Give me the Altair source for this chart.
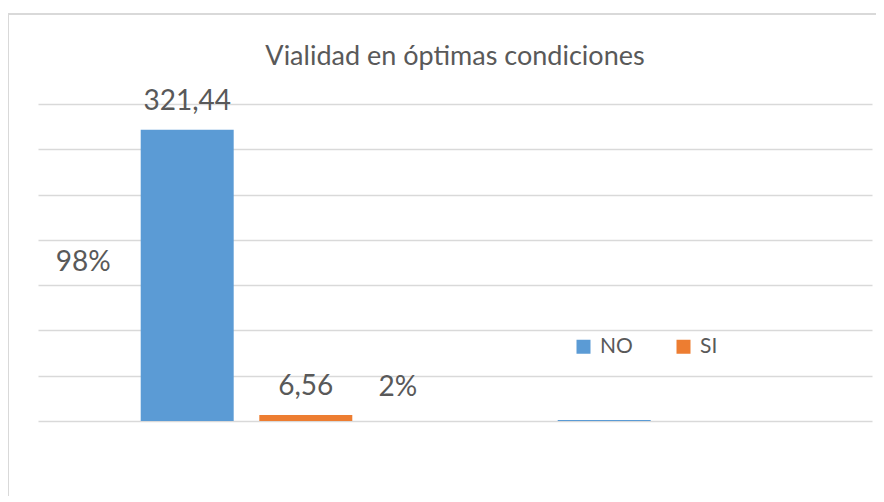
import altair as alt
import pandas as pd

titulo = "Vialidad en óptimas condiciones"
grupos = ["Kilómetros", "Porcentaje"]
series = ["NO", "SI"]
valores_km = [321.44, 6.56]
valores_pct = [0.98, 0.02]
etiquetas_km = ["321,44", "6,56"]
etiquetas_pct = ["98%", "2%"]
colores = ["#5B9BD5", "#ED7D31"]
ticks_y = [0, 50, 100, 150, 200, 250, 300, 350]

TXT = "#595959"
FONT = "Lato"

rows = []
for s, v in zip(series, valores_km):
    rows.append({"grupo": grupos[0], "serie": s, "valor": v})
for s, v in zip(series, valores_pct):
    rows.append({"grupo": grupos[1], "serie": s, "valor": v})
df_bars = pd.DataFrame(rows)

df_lab = pd.DataFrame({"grupo": [grupos[0]] * 2, "serie": series,
                       "valor": valores_km, "etiqueta": etiquetas_km,
                       "pct": etiquetas_pct})

x_enc = alt.X("grupo:N", sort=grupos, scale=alt.Scale(paddingInner=0, paddingOuter=0), axis=None)
xo_enc = alt.XOffset("serie:N", sort=series,
                     scale=alt.Scale(paddingInner=0.216, paddingOuter=0.866))
y_enc = alt.Y("valor:Q", scale=alt.Scale(domain=[0, 350], nice=False),
              axis=alt.Axis(values=ticks_y, labels=False, ticks=False, domain=False,
                            grid=True, gridColor="#D9D9D9", gridWidth=1.5, title=None))

bars = alt.Chart(df_bars).mark_bar().encode(
    x=x_enc, xOffset=xo_enc, y=y_enc,
    color=alt.Color("serie:N", sort=series,
                    scale=alt.Scale(domain=series, range=colores),
                    legend=alt.Legend(orient="none", legendX=535, legendY=232,
                                      direction="horizontal", title=None,
                                      symbolType="square", symbolSize=196,
                                      symbolStrokeWidth=0, symbolOpacity=1,
                                      labelFontSize=21, labelFont=FONT,
                                      labelColor=TXT, columnPadding=40,
                                      labelOffset=6, padding=0)),
)

labels = alt.Chart(df_lab).mark_text(
    font=FONT, fontSize=28, color=TXT, baseline="alphabetic", dy=-20
).encode(x=x_enc, xOffset=xo_enc, y=alt.Y("valor:Q"), text="etiqueta:N")

pct_no = alt.Chart(df_lab).transform_filter(alt.datum.serie == "NO").transform_calculate(
    mitad="datum.valor / 2"
).mark_text(font=FONT, fontSize=28, color=TXT, baseline="alphabetic", dx=-104, dy=-4).encode(
    x=x_enc, xOffset=xo_enc, y=alt.Y("mitad:Q"), text="pct:N")

pct_si = alt.Chart(df_lab).transform_filter(alt.datum.serie == "SI").mark_text(
    font=FONT, fontSize=28, color=TXT, baseline="alphabetic", dx=92, dy=-19
).encode(x=x_enc, xOffset=xo_enc, y=alt.Y("valor:Q"), text="pct:N")

title = alt.Chart(pd.DataFrame({"t": [titulo]})).mark_text(
    font=FONT, fontSize=27, color=TXT, baseline="alphabetic", align="center"
).encode(x=alt.value(417), y=alt.value(-39), text="t:N")

frame = pd.DataFrame({"k": [0]})
border_left = alt.Chart(frame).mark_rule(color="#D9D9D9", strokeWidth=2).encode(
    x=alt.value(-30), y=alt.value(-90), y2=alt.value(420))
border_top = alt.Chart(frame).mark_rule(color="#D9D9D9", strokeWidth=2).encode(
    x=alt.value(-31), x2=alt.value(850), y=alt.value(-90))

chart = alt.layer(border_left, border_top, bars, labels, pct_no, pct_si, title).properties(
    width=834, height=317,
    autosize=alt.AutoSizeParams(type="none"),
    padding={"left": 30, "top": 96, "right": 4, "bottom": 75},
).configure_view(stroke=None)

chart.save("out.html", embed_options={"renderer": "svg", "actions": False})
